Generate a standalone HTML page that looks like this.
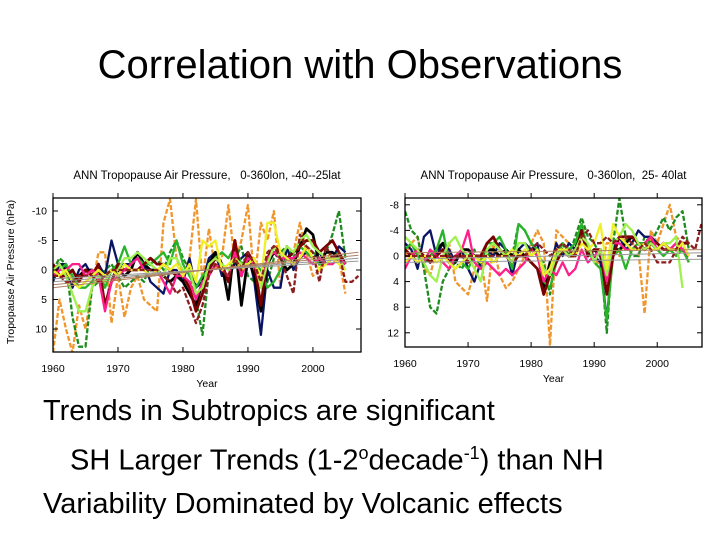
<!DOCTYPE html>
<html><head><meta charset="utf-8"><style>
body{margin:0;background:#fff;width:720px;height:540px;overflow:hidden;font-family:"Liberation Sans",sans-serif;}
#title{position:absolute;left:0;width:720px;top:43px;text-align:center;font-size:40px;color:#000;}
.bt{position:absolute;font-size:29px;color:#000;white-space:nowrap;}
svg{position:absolute;left:0;top:0;}
svg text{white-space:pre;}
</style></head><body>
<div id="title">Correlation with Observations</div>
<svg id="chart" width="720" height="540"></svg>
<div class="bt" style="left:43px;top:395px">Trends in Subtropics are significant</div>
<div class="bt" style="left:70px;top:443px">SH Larger Trends (1-2<sup style="font-size:18px">o</sup>decade<sup style="font-size:18px">-1</sup>) than NH</div>
<div class="bt" style="left:43px;top:488px">Variability Dominated by Volcanic effects</div>
<script>
const colors=["#f0962d","#1e8c1e","#0a1464","#000000","#28b428","#780000","#ff1e8c","#a0f050","#f0f028","#8c1e1e","#8888ee","#b428c8"];
const leftSeries=[
[14,5,10,14,6,10,3,-3,-3,9,1,8,3,1,5,6,7,-8,-12,-2,1,-2,-12,2,-7,0,-2,-11,-1,-5,-11,2,-8,-5,-10,3,-4,-3,-8,-3,1,0,-2,-3,-2,4],
[0,-2,-1,8,13,13,3,2,0,-1,1,3,2,1,2,-1,-2,0,-3,-5,-2,0,5,11,0,-3,-1,2,-2,-4,1,2,5,2,-2,-3,-4,-2,-5,-4,-3,-2,-3,-6,-10,-2],
[2,-1,-1,3,0,-1,1,-1,1,-5,-1,-1,-1,-3,-1,2,3,4,0,0,2,-2,3,2,-2,-3,1,1,-1,-2,-3,2,11,0,3,3,-4,0,-2,-3,-2,-3,-1,-2,-4,-3],
[0,-1,0,2,1,0,0,1,1,0,0,1,0,-3,-1,0,0,1,2,1,2,4,6,2,-1,-3,-1,5,-5,6,-2,1,7,-1,-3,-2,0,-1,-4,-7,-6,-1,-3,-3,-2,-1],
[1,0,-1,1,3,3,2,0,3,0,-1,-4,-1,-2,-1,-1,-2,-3,-1,-5,-1,1,3,1,0,-2,-3,-2,-4,-1,-2,-1,0,3,2,0,-2,-3,-4,-3,-2,-1,-1,-2,-3,-1],
[-1,1,1,0,2,0,1,-1,6,2,-1,0,0,0,-1,-2,-1,-1,0,1,1,3,7,4,0,-2,-1,2,-5,1,-3,-1,6,-2,-4,-3,-2,-3,-4,-5,-5,-3,-4,-5,-3,-1],
[1,0,0,-1,-1,1,0,1,7,2,1,0,-1,-2,0,1,0,2,4,1,1,2,5,2,1,-1,0,1,-3,1,-2,-1,3,-2,-3,-2,-2,-2,-3,-2,-1,-2,-1,-1,-2,-1],
[0,-1,1,4,7,7,3,1,2,0,0,-2,-2,-3,-2,-1,0,1,-2,-2,0,0,4,3,-1,-2,-1,0,-2,-1,-1,-2,3,-1,-4,-2,-4,-3,-5,-6,-4,-3,-2,-2,-2,0],
[0,1,0,2,3,2,1,0,1,0,1,-1,0,0,0,1,0,-1,0,-1,1,-1,2,-5,-4,-5,0,-1,-2,0,-1,-2,2,-8,-8,-3,-2,-1,-2,-4,-2,0,-1,-2,-1,0],
[1,1,2,2,1,1,1,2,1,0,0,0,0,0,0,0,0,1,2,4,3,6,9,6,1,-1,0,1,-2,0,-3,-1,2,-3,-4,-2,1,4,-6,-4,-3,2,-4,-2,-3,2,2,1]];
const rightSeries=[
[0,-2,-3,2,3,-1,-2,-2,4,5,6,2,0,7,-2,3,5,4,2,0,-2,-4,-2,14,-4,-3,-2,-1,-3,-1,0,2,-2,-2,0,-3,-2,-1,9,-4,-2,-5,-8,-3,-2,1],
[-7,-4,-3,2,8,9,4,2,1,2,0,-1,2,0,-1,-2,-1,0,-5,-4,-2,0,1,6,-1,-2,0,-3,-6,-3,-2,0,12,-2,-9,-3,0,0,-3,-2,-4,-6,-4,-6,-7,-1],
[-2,-1,2,-3,-4,0,-2,-1,1,-1,2,4,1,-1,0,-2,-1,3,-1,-2,-1,-2,5,2,-2,0,-2,-1,-4,-1,0,1,10,-1,-3,-1,-2,-4,-3,-3,-2,-1,-1,-2,-1,0],
[-1,0,-1,1,0,-1,-2,0,1,-1,-1,0,0,-1,-1,0,-1,0,-1,0,-1,-1,5,1,0,-1,0,-1,-4,0,-1,0,4,-1,-1,-2,-3,-2,-1,-2,-1,-2,-1,-1,-1,0],
[-1,-2,0,1,0,-1,-4,1,2,1,2,0,1,-2,-2,-3,-1,2,-5,-4,-2,-1,4,5,1,-2,-1,-2,-5,-1,1,2,10,0,-1,2,-1,-2,-2,-2,-1,0,-1,0,-1,1],
[-1,0,-1,0,1,0,-1,1,0,0,1,0,0,-2,-3,-1,0,1,0,0,1,2,6,3,1,-1,0,0,-4,0,-1,-1,6,0,-3,-3,-3,-2,-1,-2,-2,-1,-1,-1,-2,-2],
[2,0,-1,1,-1,0,1,2,0,-1,-4,1,2,1,2,3,2,3,2,1,-1,0,4,2,3,1,3,2,-1,1,0,-1,4,-2,-2,-1,-1,-1,-2,-3,-1,-2,-1,-2,-1,0],
[-3,-2,-1,1,3,4,0,-2,-3,-1,0,2,4,-1,-2,-1,0,1,-2,-2,0,-1,2,3,0,-1,0,-1,-3,-2,1,-1,3,-2,-3,-5,-4,-2,-1,-2,-1,-2,-2,-3,5],
[1,0,1,0,0,1,0,1,2,1,0,0,1,0,1,0,0,-1,0,-1,0,-1,3,2,-1,-1,-1,0,-2,-1,-2,-5,2,-5,-3,-2,-1,-1,-2,-1,-1,-2,-1,-1,-2,0],
[0,0,0,0,0,0,0,0,0,0,0,0,0,0,0,0,0,0,0,0,-1,-2,-1,0,-1,-2,-1,0,-3,-4,-2,-2,-3,-2,-3,-3,-2,-1,-2,-1,1,1,1,-1,-3,-2,-1,-5]];
const dashed=[true,true,false,false,false,false,false,false,false,true];
const leftTrendStart=[2,3,1.5,2.5], leftTrendEnd=[-2,-3,-1.5,-2.5];
const rightTrendStart=[0.5,-0.5,1], rightTrendEnd=[-0.5,-1,0.5];
const leftYTicks=[-10,-5,0,5,10], rightYTicks=[-8,-4,0,4,8,12];
const xTicks=[1960,1970,1980,1990,2000];
const svg=document.getElementById('chart');
const NS="http://www.w3.org/2000/svg";
function mk(t,a,p){const e=document.createElementNS(NS,t);for(const k in a)e.setAttribute(k,a[k]);(p||svg).appendChild(e);return e;}
function panel(cfg){
 const g=mk('g',{});
 
 
 const X=y=>cfg.x0+(y-1960)*(cfg.x1-cfg.x0)/(cfg.y1yr-1960);
 const Y=v=>cfg.zeroY+v*cfg.ppu;
 const clip=mk('clipPath',{id:cfg.name+'-clip'},g);
 mk('rect',{x:cfg.x0,y:cfg.top,width:cfg.x1-cfg.x0,height:cfg.bot-cfg.top},clip);
 const t=mk('text',{x:(cfg.x0+cfg.x1)/2,y:cfg.top-19,'text-anchor':'middle','font-size':11.5},g);
 t.textContent=cfg.title;
 
 
 const lines=mk('g',{'clip-path':'url(#'+cfg.name+'-clip)'},g);
 cfg.series.forEach((s,i)=>{
  const pts=s.map((v,j)=>X(1960+j).toFixed(1)+','+Y(v).toFixed(1)).join(' ');
  const pl=mk('polyline',{points:pts,fill:'none',stroke:colors[i%colors.length],'stroke-width':i==3||i==5?2.8:2.3,'stroke-dasharray':dashed[i]?'5,2':'none','stroke-linejoin':'round'},lines);
  
  
 });
 cfg.ts.forEach((s,i)=>{
  const l=mk('line',{x1:X(1960),y1:Y(s),x2:X(2007),y2:Y(cfg.te[i]),stroke:i%2?'#b08060':'#999','stroke-width':1},lines);
  
  
 });
 mk('rect',{x:cfg.x0,y:cfg.top,width:cfg.x1-cfg.x0,height:cfg.bot-cfg.top,fill:'none',stroke:'#000','stroke-width':1.3},g);
 cfg.yt.forEach(v=>{
  mk('line',{x1:cfg.x0,y1:Y(v),x2:cfg.x0+5,y2:Y(v),stroke:'#000'},g);
  mk('line',{x1:cfg.x1,y1:Y(v),x2:cfg.x1-5,y2:Y(v),stroke:'#000'},g);
  const tx=mk('text',{x:cfg.x0-6,y:Y(v)+3.5,'text-anchor':'end','font-size':10.5},g);
  tx.textContent=v;
  
  
 });
 xTicks.forEach(yr=>{
  mk('line',{x1:X(yr),y1:cfg.bot,x2:X(yr),y2:cfg.bot-5,stroke:'#000'},g);
  mk('line',{x1:X(yr),y1:cfg.top,x2:X(yr),y2:cfg.top-5,stroke:'#000'},g);
  const tx=mk('text',{x:X(yr),y:cfg.bot+20,'text-anchor':'middle','font-size':10.5},g);
  tx.textContent=yr;
  
  
 });
 const xt=mk('text',{x:(cfg.x0+cfg.x1)/2,y:cfg.bot+35,'text-anchor':'middle','font-size':10.5},g);
 xt.textContent='Year';
 
 
}
panel({name:'sh-panel',title:'ANN Tropopause Air Pressure,   0-360lon, -40--25lat',x0:53,x1:361,y1yr:2007.4,top:198,bot:352,zeroY:270,ppu:5.9,series:leftSeries,ts:leftTrendStart,te:leftTrendEnd,yt:leftYTicks});
panel({name:'nh-panel',title:'ANN Tropopause Air Pressure,   0-360lon,  25- 40lat',x0:405,x1:702,y1yr:2007.1,top:198,bot:347,zeroY:256,ppu:6.4,series:rightSeries,ts:rightTrendStart,te:rightTrendEnd,yt:rightYTicks});
const yl=mk('text',{x:14,y:272,'text-anchor':'middle','font-size':10.5,transform:'rotate(-90 14 272)'});
yl.textContent='Tropopause Air Pressure (hPa)';


</script>
</body></html>
